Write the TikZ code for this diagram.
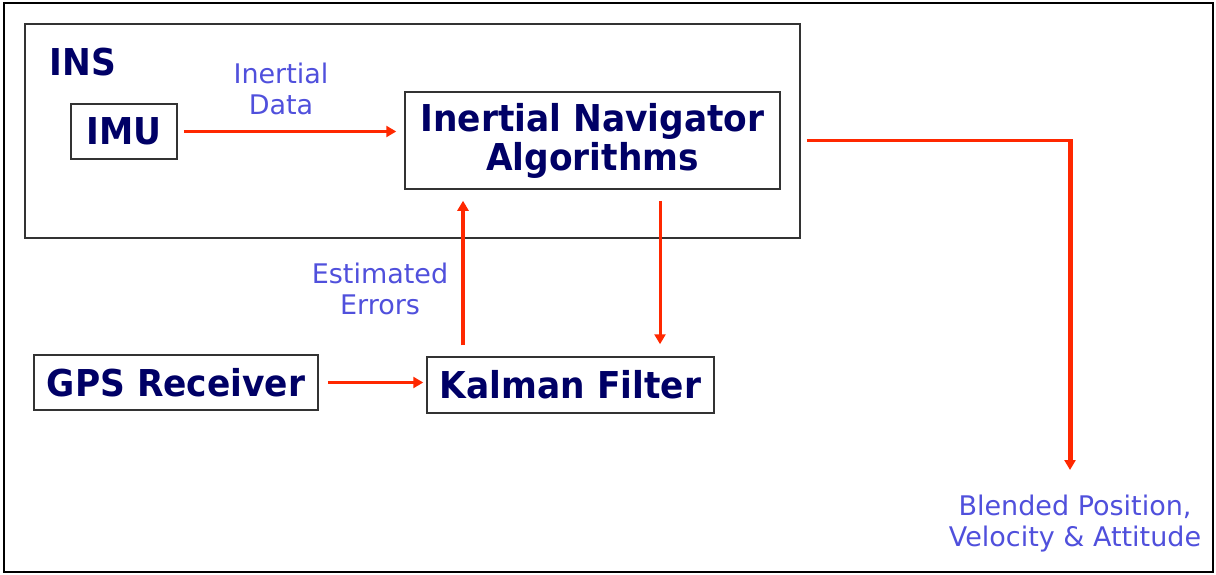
\documentclass[tikz,border=0pt]{standalone}
\usepackage{fontspec}
\setmainfont{DejaVu Sans}
\newfontfamily\boxfont{DejaVu Sans}[FakeStretch=0.93]
\usetikzlibrary{arrows.meta}

\definecolor{navytext}{RGB}{0,0,102}
\definecolor{labelblue}{RGB}{80,80,220}
\definecolor{flowred}{RGB}{255,40,0}

\begin{document}
\begin{tikzpicture}[x=1pt, y=-1pt,
        block/.style={draw=black!80, line width=1.5pt, text=navytext,
            font=\boxfont\bfseries\fontsize{37}{39}\selectfont,
            align=center, inner sep=0pt},
        tag/.style={text=labelblue, font=\fontsize{27}{31}\selectfont,
            align=center, inner sep=0pt},
        flow/.style={draw=flowred, line width=3.5pt,
            -{Triangle[length=10pt, width=11pt]}}]
        \useasboundingbox (0,0) rectangle (1216,575);
        \draw[line width=2pt] (4,3) rectangle (1213,572);

        % INS frame with IMU and navigator inside
        \node[block, minimum width=775pt, minimum height=214pt] (ins) at (412.5,131) {};
        \node[block, draw=none] (inslbl) at (83,62) {INS};
        \node[block, minimum width=106pt, minimum height=55pt] (imu) at (124,131.5) {IMU};
        \node[block, minimum width=375pt, minimum height=97pt] (ina) at (592.5,140.5) {Inertial Navigator\\Algorithms};

        % aiding loop
        \node[block, minimum width=284pt, minimum height=55pt] (gps) at (176,382.5) {GPS Receiver};
        \node[block, minimum width=287pt, minimum height=56pt] (kf) at (570.5,385) {Kalman Filter};

        \node[tag] (inertial) at (281,89) {Inertial\\Data};
        \node[tag] (errors) at (380,289) {Estimated\\Errors};
        \node[tag] (blend) at (1075,524) {Blended Position,\\Velocity \& Attitude};

        \draw[flow, line width=3pt, shorten <=6pt, shorten >=8pt] (imu.east) -- (imu.east -| ina.west);
        \draw[flow, shorten <=9pt, shorten >=3pt] (gps.east) -- (gps.east -| kf.west);
        \draw[flow, shorten <=11pt, shorten >=11pt] ([xshift=-107.5pt]kf.north) -- ([xshift=-107.5pt]kf.north |- ina.south);
        \draw[flow, line width=3pt, shorten <=11pt, shorten >=12pt] ([xshift=67.5pt]ina.south) -- ([xshift=67.5pt]ina.south |- kf.north);

        % blended output
        \coordinate (corner) at (1070,140.5);
        \coordinate (tap) at (1070,470);
        \draw[draw=flowred, line width=3pt, shorten <=26pt] (ina.east) -- ([xshift=2.5pt]corner);
        \draw[flow, line width=5pt] ([yshift=-1.5pt]corner) -- (tap);
    \end{tikzpicture}
\end{document}
